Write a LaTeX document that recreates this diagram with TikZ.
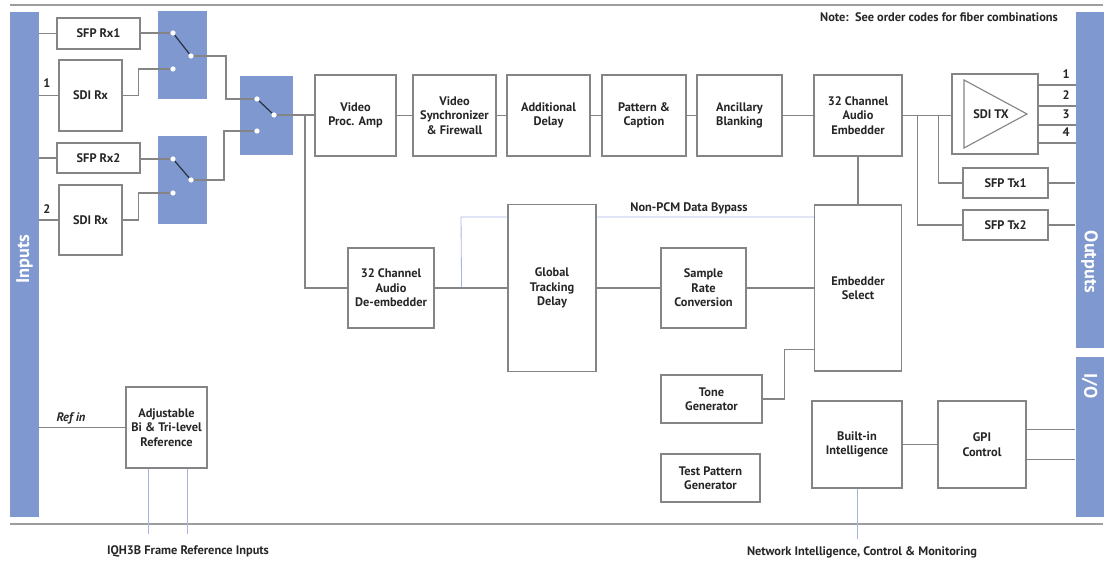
\documentclass[tikz,border=0pt]{standalone}
\usepackage{fontspec}
\setmainfont{PT Sans}
\definecolor{barblue}{HTML}{7F98CF}
\definecolor{wiregray}{HTML}{858585}
\definecolor{lavender}{HTML}{AAB4E2}
\definecolor{textgray}{HTML}{262626}
\begin{document}
\begin{tikzpicture}[x=0.025cm, y=-0.025cm,
  every node/.style={font=\fontsize{8.8}{10.3}\selectfont\bfseries, text=textgray},
  blk/.style 2 args={draw=wiregray, fill=white, line width=0.8pt, align=center, inner sep=0pt,
    minimum width=#1*0.025cm, minimum height=#2*0.025cm},
  swbox/.style 2 args={fill=barblue, inner sep=0pt, minimum width=#1*0.025cm, minimum height=#2*0.025cm},
  bar/.style={fill=barblue, inner sep=0pt, minimum width=0.7cm},
  bartxt/.style={font=\fontsize{13}{15}\selectfont\bfseries, text=white},
  swdot/.style={circle, fill=white, inner sep=0pt, minimum size=0.13cm},
  link/.style={draw=wiregray, line width=0.8pt},
  toggle/.style={draw=barblue!35!black, line width=0.9pt},
  bypass/.style={draw=lavender, line width=0.6pt},
  rule/.style={draw=wiregray!80, line width=1.2pt}]
  \useasboundingbox (0,0) rectangle (1111,563);
  \draw[rule] (10,5) -- (1103,5);
  \draw[rule] (10,524) -- (1103,524);

  \node[bar, minimum height=505*0.025cm] (inbar) at (24.5,264.5) {};
  \node[bar, minimum height=336*0.025cm] (outbar) at (1089.5,180) {};
  \node[bar, minimum height=160*0.025cm] (iobar) at (1089.5,437) {};
  \node[bartxt, rotate=90] (inlab) at (24.5,259) {Inputs};
  \node[bartxt, rotate=-90] (outlab) at (1089.5,262) {Outputs};
  \node[bartxt, rotate=-90] (iolab) at (1089.5,386) {I/O};

  \node[blk={83}{31}] (sfpa) at (98.5,33.5) {SFP Rx1};
  \node[blk={63}{71}] (sdia) at (90.5,95.5) {SDI Rx};
  \node[blk={83}{30}] (sfpb) at (98.5,158) {SFP Rx2};
  \node[blk={63}{70}] (sdib) at (90.5,220) {SDI Rx};
  \node[swbox={49}{88}] (swa) at (182.5,55) {};
  \node[swbox={49}{88}] (swb) at (182.5,180) {};
  \node[swbox={53}{79}] (swc) at (266.5,115.5) {};
  \foreach \nm/\dx/\dy in {a1/173/33, a2/173/69, ao/191/56, b1/173/159, b2/173/193,
      bo/191/180, c1/257/99, c2/257/131, co/274/115}
    \node[swdot] (\nm) at (\dx,\dy) {};
  \node (n1) at (47,83) {1};
  \node (n2) at (47,209) {2};
  \draw[link] (inbar.east |- sfpa) -- (sfpa);
  \draw[link] (inbar.east |- sdia) -- (sdia);
  \draw[link] (inbar.east |- sfpb) -- (sfpb);
  \draw[link] (inbar.east |- sdib) -- (sdib);
  \draw[link] (sfpa.east |- a1) -- (a1);
  \draw[link] (sdia.east) -- ++(16,0) |- (a2);
  \draw[toggle] (a1) -- (ao);
  \draw[link] (ao) -- ++(35,0) |- (c1);
  \draw[link] (sfpb.east |- b1) -- (b1);
  \draw[link] (sdib.east) -- ++(16,0) |- (b2);
  \draw[toggle] (b1) -- (bo);
  \draw[link] (bo) -- ++(33,0) |- (c2);
  \draw[toggle] (c1) -- (co);

  \node[blk={81}{81}] (vpa) at (355.5,115.5) {Video\\Proc. Amp};
  \node[blk={83}{81}] (vsync) at (454.5,115.5) {Video\\Synchronizer\\\& Firewall};
  \node[blk={83}{81}] (adly) at (548.5,115.5) {Additional\\Delay};
  \node[blk={84}{81}] (patt) at (644,115.5) {Pattern \&\\Caption};
  \node[blk={85}{81}] (anc) at (739.5,115.5) {Ancillary\\Blanking};
  \node[blk={88}{81}] (emb) at (858,115.5) {32 Channel\\Audio\\Embedder};
  \node[blk={86}{80}] (sditx) at (995,114) {};
  \draw[link] (964,80) -- (1027,114) -- (964,148) -- cycle;
  \node (sdilab) at (991,114) {SDI TX};
  \node[blk={85}{30}] (sfptxa) at (1005.5,183) {SFP Tx1};
  \node[blk={85}{30}] (sfptxb) at (1005.5,225) {SFP Tx2};
  \draw[link] (co) -- (co -| vpa.west);
  \draw[link] (vpa) -- (vsync) -- (adly) -- (patt) -- (anc) -- (emb);
  \draw[link] (emb.east) -- (emb.east -| sditx.west);
  \draw[link] (emb.east) ++(15,0) |- (sfptxb.west);
  \draw[link] (emb.east) ++(36,0) |- (sfptxa.west);
  \draw[link] (sfptxa) -- (sfptxa -| outbar.west);
  \draw[link] (sfptxb) -- (sfptxb -| outbar.west);
  \foreach \yy/\n in {85/1,106/2,125/3,143/4} {
    \coordinate (out\n) at (1076,\yy);
    \draw[link] (out\n -| sditx.east) -- (out\n);
    \node (lab\n) at (1066,\yy-11) {\n};
  }

  \node[blk={86}{80}] (deemb) at (391,288) {32 Channel\\Audio\\De-embedder};
  \node[blk={87}{166}] (esel) at (858,288) {Embedder\\Select};
  \coordinate (byp) at (461,217);
  \draw[bypass] (deemb.east) ++(27,0) -- (byp) -- (byp -| esel.west);
  \node[blk={88}{167}] (gtd) at (552,288) {Global\\Tracking\\Delay};
  \node[blk={85}{80}] (src) at (703.5,288) {Sample\\Rate\\Conversion};
  \draw[link] (deemb) -- (gtd) -- (src) -- (esel);
  \draw[link] (emb) -- (esel);
  \draw[link] (co) ++(31,0) |- (deemb.west);
  \node (bypasslab) at (689,208) {Non-PCM Data Bypass};

  \node[blk={101}{48}] (tone) at (711.5,399) {Tone\\Generator};
  \node[blk={99}{48}] (tpg) at (710.5,478) {Test Pattern\\Generator};
  \draw[link] (tone.east) -- ++(22,0) |- ([yshift=0.55cm]esel.south west);
  \node[blk={90}{87}] (bii) at (857,444.5) {Built-in\\Intelligence};
  \node[blk={88}{87}] (gpi) at (982,444.5) {GPI\\Control};
  \draw[link] (bii) -- (gpi);
  \coordinate (g1) at ([yshift=0.375cm]gpi.east);
  \coordinate (g2) at ([yshift=-0.375cm]gpi.east);
  \draw[link] (g1) -- (g1 -| iobar.west);
  \draw[link] (g2) -- (g2 -| iobar.west);
  \draw[bypass] (bii.south) -- ++(0,50);
  \node (netlab) at (862,552) {Network Intelligence, Control \& Monitoring};

  \node[blk={81}{81}] (aref) at (166.5,427.5) {Adjustable\\Bi \& Tri-level\\Reference};
  \draw[link] (inbar.east |- aref) -- (aref);
  \node[font=\fontsize{8.8}{10.3}\selectfont\bfseries\itshape] (refin) at (71,418) {Ref in};
  \draw[bypass] ([xshift=-0.4625cm]aref.south) -- ++(0,65);
  \draw[bypass] ([xshift=0.5125cm]aref.south) -- ++(0,65);
  \node (framelab) at (188,551) {IQH3B Frame Reference Inputs};
  \node (note) at (939,17) {Note:\ \ See order codes for fiber combinations};
\end{tikzpicture}
\end{document}
